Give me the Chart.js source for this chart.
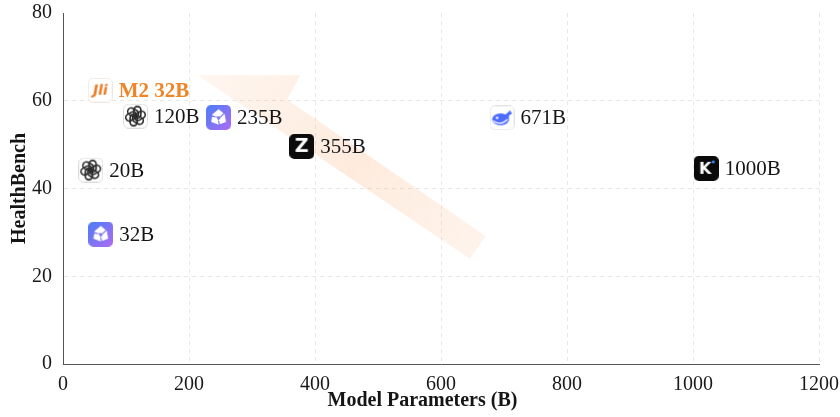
<!DOCTYPE html>
<html><head><meta charset="utf-8">
<script src="https://cdn.jsdelivr.net/npm/chart.js@4.4.1/dist/chart.umd.min.js"></script>
<style>html,body{margin:0;padding:0;background:#fff;}#wrap{width:840px;height:417px;position:relative;}</style>
</head><body><div id="wrap"><canvas id="c"></canvas></div>
<script>
// ---- data ----
const modelLabels = ['M2 32B','120B','235B','355B','20B','32B','671B','1000B'];
const paramPositions = [59,115,247,379,44,60,697,1021];
const healthBench = [62.4,56.5,56.2,49.6,44.2,29.6,56.1,44.6];
const logoKinds = ['ali','openai','qwen','zhipu','openai','qwen','deepseek','kimi'];
const xTickValues = [0,200,400,600,800,1000,1200];
const yTickValues = [0,20,40,60,80];
const highlightModel = 'M2 32B';
const xTitle = 'Model Parameters (B)';
const yTitle = 'HealthBench';

const SERIF = '"Liberation Serif", "Times New Roman", serif';
const SANS = '"DejaVu Sans", "Liberation Sans", sans-serif';

function rr(ctx,x,y,w,h,r){ctx.beginPath();ctx.moveTo(x+r,y);ctx.arcTo(x+w,y,x+w,y+h,r);ctx.arcTo(x+w,y+h,x,y+h,r);ctx.arcTo(x,y+h,x,y,r);ctx.arcTo(x,y,x+w,y,r);ctx.closePath();}

function makeIcon(kind){
  const S=25, c=document.createElement('canvas'); c.width=S; c.height=S;
  const g=c.getContext('2d');
  const whiteBox=(border)=>{rr(g,0.5,0.5,S-1,S-1,5);g.fillStyle='#fff';g.fill();g.strokeStyle=border;g.lineWidth=1;g.stroke();};
  if(kind==='ali'){
    whiteBox('#eee5dc');
    g.fillStyle='#ee7b24';
    g.save();g.translate(12.5,13);g.transform(1,0,-0.18,1,0,0);
    g.font='bold 14px '+SANS;g.textAlign='center';g.textBaseline='middle';
    g.fillText('Jli',0,0);g.restore();
  } else if(kind==='openai'){
    whiteBox('#dcdcdc');
    g.save();g.translate(12.5,12.5);g.strokeStyle='#2a2a2a';g.lineWidth=1.6;
    for(let i=0;i<6;i++){g.save();g.rotate(i*Math.PI/3);rr(g,-1.6,-9.6,7,11.5,3.5);g.stroke();g.restore();}
    g.restore();
  } else if(kind==='qwen'){
    const gr=g.createLinearGradient(0,0,S,S);gr.addColorStop(0,'#4a7ef6');gr.addColorStop(1,'#ad6cf1');
    rr(g,0,0,S,S,5);g.fillStyle=gr;g.fill();
    g.save();g.translate(12.5,12.8);g.fillStyle='#fff';g.beginPath();
    for(let i=0;i<6;i++){const a=Math.PI/6+i*Math.PI/3;const r=(i%2?7:8.5);g.lineTo(r*Math.cos(a),r*Math.sin(a));}
    g.closePath();g.fill();
    g.fillStyle='#7b74f3';g.beginPath();g.moveTo(-2.6,-1.2);g.lineTo(2.6,-1.2);g.lineTo(0,3);g.closePath();g.fill();
    g.strokeStyle='#7b74f3';g.lineWidth=1.2;g.beginPath();g.moveTo(-8,-2);g.lineTo(-3,-1);g.moveTo(6,-5);g.lineTo(2,-1);g.moveTo(1,8);g.lineTo(0,3);g.stroke();
    g.restore();
  } else if(kind==='zhipu'){
    rr(g,0,0,S,S,5);g.fillStyle='#0b0b0b';g.fill();
    g.fillStyle='#fff';g.font='bold 19px '+SANS;g.textAlign='center';g.textBaseline='middle';g.fillText('Z',12.5,13.5);
  } else if(kind==='deepseek'){
    whiteBox('#e3e3e3');
    g.fillStyle='#4d6bfe';
    g.beginPath();g.ellipse(11,14,8.5,6,0,0,Math.PI*2);g.fill();
    g.beginPath();g.moveTo(15,10);g.lineTo(20.5,5);g.lineTo(22.5,8.5);g.lineTo(20,9.5);g.lineTo(18.5,13.5);g.closePath();g.fill();
    g.fillStyle='#fff';g.beginPath();g.arc(7.5,12.5,1.3,0,Math.PI*2);g.fill();
    g.beginPath();g.moveTo(3.5,15.5);g.quadraticCurveTo(11,21,18,14);g.lineWidth=1.3;g.strokeStyle='#fff';g.stroke();
  } else if(kind==='kimi'){
    rr(g,0,0,S,S,5);g.fillStyle='#0a0a0a';g.fill();
    g.fillStyle='#fff';g.font='bold 16px '+SANS;g.textAlign='center';g.textBaseline='middle';g.fillText('K',11.5,13.5);
    g.fillStyle='#2d8cff';g.beginPath();g.arc(19.5,6,1.6,0,Math.PI*2);g.fill();
  }
  return c;
}
const iconCache={};
const pointIcons = logoKinds.map(k=>iconCache[k]||(iconCache[k]=makeIcon(k)));

// decorative arrow (in data units)
const arrowDecor = {xs:[214,376,356,671,646], ys:[65.8,65.8,60.2,29.2,24.0]};

const arrowPlugin = {
  id:'arrowDecor',
  beforeDatasetsDraw(chart){
    const {ctx,scales:{x,y}}=chart;
    const px=arrowDecor.xs.map(v=>x.getPixelForValue(v));
    const py=arrowDecor.ys.map(v=>y.getPixelForValue(v));
    const endX=(px[3]+px[4])/2, endY=(py[3]+py[4])/2;
    const gr=ctx.createLinearGradient(px[0],py[0],endX,endY);
    gr.addColorStop(0,'rgba(247,140,60,0.08)');
    gr.addColorStop(0.55,'rgba(247,135,55,0.17)');
    gr.addColorStop(1,'rgba(247,140,60,0.10)');
    ctx.save();ctx.beginPath();
    px.forEach((p,i)=>{ if(i===0) ctx.moveTo(p,py[i]); else ctx.lineTo(p,py[i]); });
    ctx.closePath();ctx.fillStyle=gr;ctx.fill();ctx.restore();
  }
};

const labelPlugin = {
  id:'pointLabels',
  afterDatasetsDraw(chart){
    const {ctx}=chart; const meta=chart.getDatasetMeta(0);
    ctx.save();ctx.textAlign='left';ctx.textBaseline='middle';
    meta.data.forEach((el,i)=>{
      const name=modelLabels[i]; const hi=name===highlightModel;
      ctx.font=(hi?'bold ':'')+'21px '+SERIF;
      ctx.fillStyle=hi?'#ef8428':'#151515';
      ctx.fillText(name, el.x+12.5+6, el.y+1);
    });
    ctx.restore();
  }
};

const titlePlugin = {
  id:'axisTitles',
  afterDraw(chart){
    const {ctx,chartArea:a}=chart;
    ctx.save();ctx.fillStyle='#151515';ctx.font='bold 20px '+SERIF;
    ctx.textAlign='center';ctx.textBaseline='alphabetic';
    ctx.fillText(xTitle, a.left+(a.right-a.left)*0.4755, 406);
    ctx.translate(25,(a.top+a.bottom)/2);ctx.rotate(-Math.PI/2);
    ctx.fillText(yTitle,0,0);
    ctx.restore();
  }
};

new Chart(document.getElementById('c'),{
  type:'scatter',
  data:{datasets:[{
    data: paramPositions.map((v,i)=>({x:v,y:healthBench[i]})),
    pointStyle: pointIcons,
    pointRadius: 12,
    pointHoverRadius: 12
  }]},
  options:{
    responsive:true, maintainAspectRatio:false, animation:false, events:[],
    layout:{padding:0},
    plugins:{legend:{display:false},tooltip:{enabled:false}},
    scales:{
      x:{type:'linear',min:0,max:1200,
        afterBuildTicks(s){s.ticks=xTickValues.map(v=>({value:v}));},
        afterFit(s){s.height=53;s.paddingLeft=0;s.paddingRight=21;},
        ticks:{font:{family:SERIF,size:20},color:'#1a1a1a',padding:9,callback:(v)=>String(v)},
        grid:{color:'#e8e8e8',lineWidth:1,drawTicks:false},
        border:{display:true,color:'#555',width:1,dash:[4,4]}
      },
      y:{type:'linear',min:0,max:80,
        afterBuildTicks(s){s.ticks=yTickValues.map(v=>({value:v}));},
        afterFit(s){s.width=63;s.paddingTop=10;s.paddingBottom=0;},
        ticks:{font:{family:SERIF,size:20,lineHeight:1},color:'#1a1a1a',padding:11,callback:(v)=>String(v)},
        grid:{color:(c)=>(c.tick&&c.tick.value===80)?'rgba(0,0,0,0)':'#e8e8e8',lineWidth:1,drawTicks:false},
        border:{display:true,color:'#555',width:1,dash:[4,4]}
      }
    }
  },
  plugins:[arrowPlugin,labelPlugin,titlePlugin]
});
</script></body></html>
